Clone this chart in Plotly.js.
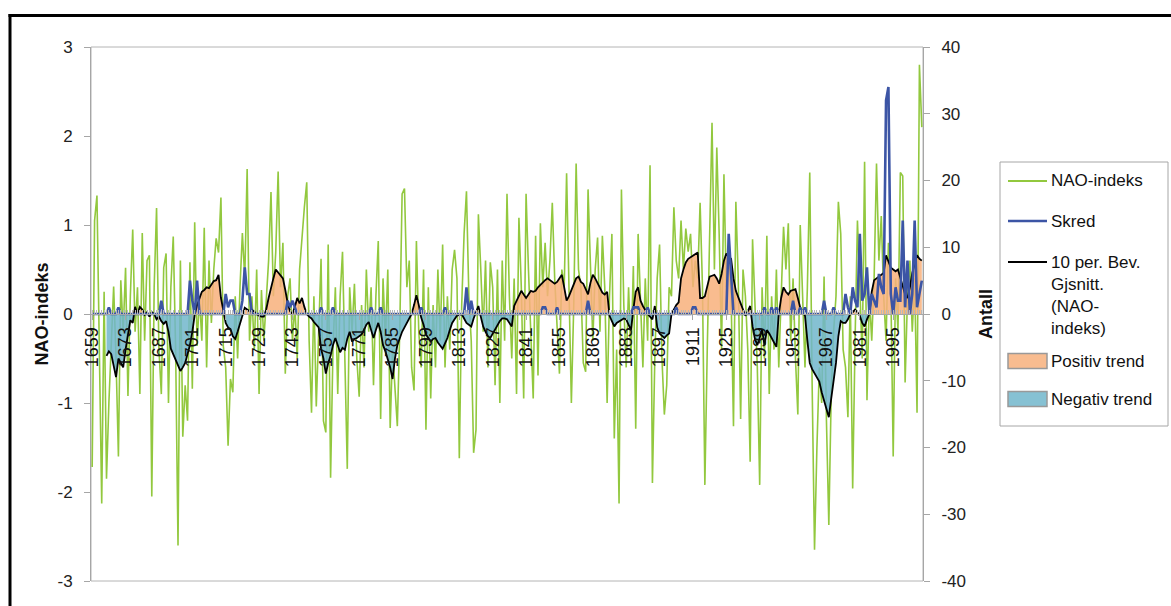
<!DOCTYPE html>
<html>
<head>
<meta charset="utf-8">
<script src="https://cdn.plot.ly/plotly-3.0.1.min.js"></script>
<style>
html,body{margin:0;padding:0;background:#fff;}
#chart{width:1171px;height:606px;}
</style>
</head>
<body>
<div id="chart"></div>
<script>
// ---------- DATA ----------
const firstYear = 1659;
const lastYear = 2007;

// NAO index (annual values), 1659-2007
const naoIndex = [
  -1.72, 1.05, 1.33, -0.6, -2.13, 0.25, -1.85, -1.0, -0.3, 0.31,
  -0.5, -1.6, 0.38, -0.2, 0.52, -0.92, 0.2, 0.95, -0.2, 0.3,
  -0.9, 0.91, -0.3, 0.6, 0.66, -2.05, 0.3, 1.19, -0.4, -0.9,
  0.52, 0.68, -1.0, 0.3, 0.87, -0.4, -2.6, 0.6, -1.38, -0.8,
  -1.2, 0.58, -0.84, 1.03, -0.36, 0.2, -0.3, 0.97, -0.6, 0.6,
  -0.1, 0.5, 0.85, 0.69, 1.31, -0.36, -0.6, -1.48, -0.73, -0.88,
  0.2, -0.5, 0.3, 0.91, 0.4, 1.63, -0.3, 0.2, -0.4, 0.5,
  -0.9, 0.27, -0.3, 0.1, 0.6, 1.37, 0.2, 0.7, 1.6, 0.3,
  0.8, -0.67, 0.2, 0.4, -0.3, 0.1, -0.5, 0.5, 0.9, 1.2,
  1.48, -0.3, -1.11, 0.2, -1.04, -0.3, 0.62, -1.2, -1.33, 0.78,
  -1.84, -0.4, 0.3, -0.9, 0.2, 0.7, -0.6, -1.74, 0.3, -0.2,
  0.34, -0.5, -0.93, 0.1, -0.6, 0.5, -0.2, 0.3, -0.8, 0.2,
  0.82, -1.18, 0.4, -0.3, 0.5, -1.28, -0.4, -0.9, -1.26, -0.2,
  1.35, 1.41, 0.3, 0.6, -0.6, -0.86, 0.82, -0.2, -0.6, 0.5,
  -1.3, 0.3, -0.95, 0.1, -0.6, 0.5, -0.3, 0.78, -0.6, 0.2,
  -0.4, 0.5, 0.72, 0.4, -1.62, 0.1, 0.9, 1.38, 0.2, -0.3,
  -1.56, -1.3, 1.12, 0.5, -0.2, 0.6, -0.6, 0.58, 0.3, -0.8,
  0.5, -1.0, 0.6, -0.3, 1.35, 0.2, -0.5, 0.4, -0.9, 1.08,
  0.3, -0.95, 1.35, 0.5, -0.2, -0.95, 0.88, -0.69, 1.02, 0.3,
  0.8, 0.2, 0.6, 1.25, 0.4, -0.2, -0.67, 0.5, 0.3, 1.58,
  0.4, -1.0, 0.1, 1.69, 0.5, 0.3, -0.55, -0.65, 1.4, 0.4,
  -0.3, 0.5, 0.86, -0.2, 0.88, 0.3, -1.0, 0.2, 0.9, -1.4,
  -0.4, -2.13, 1.4, 0.1, -0.6, 0.3, -0.5, 0.54, -1.29, 0.9,
  0.2, -0.6, 0.4, -0.3, 1.67, -1.9, -0.5, 0.4, 0.78, -0.5,
  -1.13, -0.8, 0.3, 0.2, 1.2, 0.6, 0.4, 1.05, 0.5, 0.96,
  0.7, 0.9, 0.3, 0.6, 0.4, 1.25, 0.3, -1.92, -0.4, 0.8,
  2.15, 0.5, 1.87, 0.9, -0.4, 1.57, 0.3, 0.6, 0.2, -1.26,
  1.26, 0.4, -1.18, 0.5, 0.2, -0.4, -1.66, 0.84, 0.1, -0.6,
  -1.92, 0.3, -0.5, 0.88, -0.9, 0.2, -0.4, 0.5, -0.6, 0.3,
  0.98, 0.5, 1.02, -0.3, 0.4, -0.5, -1.13, 1.0, 0.2, -0.6,
  0.3, 1.59, -0.8, -2.65, -1.5, -0.6, -1.0, 0.42, -1.2, -2.37,
  -0.9, -0.2, 0.2, 1.26, 0.9, -0.4, -0.6, -1.16, 0.2, -1.96,
  -0.3, 1.05, 0.3, -0.5, 1.71, -0.97, 0.2, -0.3, 0.4, 1.69,
  0.6, 1.1, 0.2, -0.3, 0.8, 0.3, -1.6, 0.4, -0.2, 1.59,
  1.55, -0.77, 0.2, 0.6, -0.2, 0.4, -1.11, 2.8, 2.1
];

// Skred (avalanche count, right axis), 1659-2007
const skred = [
  0,0,0,0,0,0,0,1,0,0,
  0,1,0,0,0,0,0,0,0,0,
  0,0,0,0,0,0,0,0,0,2,
  0,0,0,0,0,0,0,0,0,0,
  0,5,2,0,5,0,0,0,0,0,
  0,0,0,0,0,0,3,1,2,2,
  0,0,0,2,7,3,3,0,0,0,
  0,0,0,0,0,0,0,0,0,0,
  0,0,2,1,2,1,0,0,0,0,
  0,0,0,0,0,0,1,0,0,0,
  0,1,0,0,0,0,0,0,0,0,
  0,0,0,0,0,0,0,1,0,0,
  0,1,0,0,0,0,0,0,0,0,
  0,0,0,0,0,0,0,0,1,0,
  0,0,0,0,0,0,0,0,1,0,
  0,0,0,0,0,0,0,4,0,2,
  0,0,0,0,0,0,0,0,0,0,
  0,0,0,0,0,0,0,0,0,0,
  0,0,0,0,0,0,0,0,0,1,
  1,0,0,0,0,1,0,0,0,0,
  0,0,0,0,0,0,0,0,2,0,
  0,0,0,0,0,0,0,0,0,0,
  0,0,0,0,0,0,0,1,1,1,
  0,0,0,1,0,0,0,0,0,0,
  0,0,0,0,0,1,0,0,0,0,
  0,0,1,1,0,0,0,0,0,0,
  0,0,0,0,0,0,0,12,6,0,
  0,0,0,0,0,0,0,0,0,0,
  0,0,1,0,0,1,0,1,0,0,
  0,0,0,0,2,0,0,1,0,1,
  0,0,0,0,0,0,0,2,0,0,
  0,1,0,0,0,0,3,1,0,4,
  2,1,12,2,3,7,0,3,2,1,
  6,4,3,32,34,3,0,4,2,2,
  14,1,8,0,3,14,1,3,5
];

// 10-period moving average of NAO index, 1659-2007
const movingAvg = [
  null,null,null,null,null,null, -0.47, -0.42, -0.45, -0.6,
  -0.71, -0.5, -0.55, -0.6, -0.4, -0.22, -0.07, -0.1, 0.08, 0.0,
  0.08, 0.05, -0.01, 0.02, -0.03, 0.02, 0.0, -0.06, -0.03, -0.08,
  -0.11, -0.08, -0.2, -0.39, -0.45, -0.53, -0.58, -0.64, -0.6, -0.55,
  -0.45, -0.35, -0.2, -0.01, 0.1, 0.18, 0.25, 0.27, 0.3, 0.29,
  0.33, 0.37, 0.38, 0.44, 0.18, 0.02, -0.1, -0.15, -0.17, -0.25,
  -0.28, -0.2, -0.1, 0.0, 0.07, 0.05, 0.03, 0.05, 0.02, 0.0,
  -0.02, -0.03, -0.03, 0.05, 0.18, 0.3, 0.4, 0.5, 0.47, 0.44,
  0.4, 0.27, 0.12, 0.03, 0.0, 0.08, 0.18, 0.12, 0.18, 0.08,
  0.0, -0.03, -0.05, -0.09, -0.12, -0.15, -0.39, -0.5, -0.67, -0.55,
  -0.47, -0.35, -0.27, -0.35, -0.43, -0.38, -0.4, -0.28, -0.2, -0.31,
  -0.28, -0.27, -0.25, -0.23, -0.18, -0.12, -0.09, -0.18, -0.27, -0.18,
  -0.1, -0.2, -0.35, -0.42, -0.5, -0.6, -0.73, -0.5, -0.35, -0.27,
  -0.2, -0.15, -0.1, -0.05, 0.0, 0.1, 0.21, 0.1, -0.04, -0.12,
  -0.23, -0.27, -0.31, -0.28, -0.27, -0.32, -0.36, -0.39, -0.33, -0.27,
  -0.18, -0.1, -0.06, -0.02, -0.01, 0.0, -0.05, -0.1, -0.12, -0.14,
  -0.05, 0.03, 0.09, -0.03, -0.14, -0.2, -0.25, -0.27, -0.22, -0.18,
  -0.12, -0.08, -0.05, -0.05, -0.06, -0.1, -0.14, 0.09, 0.15, 0.2,
  0.26, 0.22, 0.18, 0.22, 0.26, 0.25, 0.26, 0.3, 0.33, 0.36,
  0.38, 0.4, 0.38, 0.37, 0.34, 0.36, 0.4, 0.44, 0.3, 0.15,
  0.2, 0.26, 0.32, 0.4, 0.42, 0.36, 0.34, 0.28, 0.22, 0.35,
  0.44, 0.4, 0.35, 0.3, 0.24, 0.22, 0.25, -0.02, -0.08, -0.14,
  -0.1, -0.08, -0.06, -0.05, -0.06, -0.12, -0.18, 0.05, 0.25, 0.3,
  0.15, 0.09, 0.04, 0.0, -0.03, -0.06, 0.09, -0.15, -0.22, -0.25,
  -0.27, -0.24, -0.22, 0.0, 0.05, 0.1, 0.13, 0.4, 0.5, 0.58,
  0.62, 0.64, 0.66, 0.68, 0.69, 0.18, 0.18, 0.2, 0.3, 0.42,
  0.43, 0.44, 0.4, 0.34, 0.45, 0.6, 0.68, 0.64, 0.62, 0.4,
  0.26, 0.2, 0.12, 0.05, -0.02, 0.03, 0.09, -0.14, -0.28, -0.35,
  -0.25, -0.18, -0.35, -0.18, -0.22, -0.27, -0.32, -0.37, 0.0, 0.18,
  0.3, 0.25, 0.22, 0.26, 0.27, 0.28, 0.18, 0.07, 0.02, -0.02,
  -0.3, -0.55, -0.62, -0.67, -0.72, -0.76, -0.88, -0.98, -1.08, -1.16,
  -0.95, -0.75, -0.55, -0.25, -0.08, -0.1, -0.1, -0.06, 0.0, 0.02,
  0.05, 0.02, -0.02, -0.1, -0.14, -0.06, 0.0, 0.25, 0.38, 0.4,
  0.42, 0.44, 0.46, 0.66, 0.58, 0.52, 0.5, 0.48, 0.5, 0.4,
  0.3, 0.22, 0.18, 0.3, 0.46, 0.55, 0.66, 0.62, 0.6
];

// Tick labels
const yearTicks = [1659,1673,1687,1701,1715,1729,1743,1757,1771,1785,1799,1813,1827,1841,1855,1869,1883,1897,1911,1925,1939,1953,1967,1981,1995];
const leftTicks = [-3,-2,-1,0,1,2,3];
const rightTicks = [-40,-30,-20,-10,0,10,20,30,40];

const seriesNames = ['NAO-indeks','Skred','10 per. Bev.<br>Gjsnitt.<br>(NAO-<br>indeks)','Positiv trend','Negativ trend'];

// ---------- BUILD ----------
const years = [];
for (let y = firstYear; y <= lastYear; y++) years.push(y);
const posTrend = movingAvg.map(v => v === null ? null : Math.max(v, 0));
const negTrend = movingAvg.map(v => v === null ? null : Math.min(v, 0));

const FONT = 'Liberation Sans, Arial, sans-serif';
const GREEN = '#92C83E', BLUE = '#3C55A5', ORANGE = '#F8BC90', LBLUE = '#86C1D3';

const traces = [
  {x: years, y: naoIndex, type: 'scatter', mode: 'lines', name: seriesNames[0],
   line: {color: GREEN, width: 1.6}, hoverinfo: 'skip'},
  {x: years, y: posTrend, type: 'scatter', mode: 'none', fill: 'tozeroy', name: seriesNames[3],
   fillcolor: 'rgba(248,176,123,0.85)', hoverinfo: 'skip'},
  {x: years, y: negTrend, type: 'scatter', mode: 'none', fill: 'tozeroy', name: seriesNames[4],
   fillcolor: 'rgba(113,182,203,0.85)', hoverinfo: 'skip'},
  {x: years, y: movingAvg, type: 'scatter', mode: 'lines', name: seriesNames[2],
   line: {color: '#000000', width: 1.8}, connectgaps: false, hoverinfo: 'skip'},
  {x: years, y: skred, type: 'scatter', mode: 'lines', name: seriesNames[1], yaxis: 'y2',
   line: {color: BLUE, width: 2.6}, hoverinfo: 'skip'}
];

const L = 91, R = 923, T = 47, B = 581, W = 1171, H = 606;
const px = x => (x - L) / (R - L);
const py = y => (B - y) / (B - T);

const shapes = [];
const annotations = [];
// outer black frame (top and left edges visible)
shapes.push({type: 'line', xref: 'paper', yref: 'paper', x0: px(8.5), x1: px(1175), y0: py(15.5), y1: py(15.5), line: {color: '#000', width: 3}});
shapes.push({type: 'line', xref: 'paper', yref: 'paper', x0: px(10), x1: px(10), y0: py(14), y1: py(610), line: {color: '#000', width: 3}});
// plot area border
shapes.push({type: 'rect', xref: 'paper', yref: 'paper', x0: 0, x1: 1, y0: 0, y1: 1, line: {color: '#B4B4B4', width: 1}, layer: 'below'});
// legend box
shapes.push({type: 'rect', xref: 'paper', yref: 'paper', x0: px(1000), x1: px(1168), y0: py(162), y1: py(426), line: {color: '#A6A6A6', width: 1}});
// legend symbols
const legY = [181, 221, 262, 361, 399];
shapes.push({type: 'line', xref: 'paper', yref: 'paper', x0: px(1008), x1: px(1047), y0: py(legY[0]), y1: py(legY[0]), line: {color: GREEN, width: 2}});
shapes.push({type: 'line', xref: 'paper', yref: 'paper', x0: px(1008), x1: px(1047), y0: py(legY[1]), y1: py(legY[1]), line: {color: BLUE, width: 2.6}});
shapes.push({type: 'line', xref: 'paper', yref: 'paper', x0: px(1008), x1: px(1047), y0: py(legY[2]), y1: py(legY[2]), line: {color: '#000', width: 2}});
shapes.push({type: 'rect', xref: 'paper', yref: 'paper', x0: px(1008), x1: px(1047), y0: py(legY[3] - 7.5), y1: py(legY[3] + 7.5), fillcolor: ORANGE, line: {color: '#999999', width: 1.5}});
shapes.push({type: 'rect', xref: 'paper', yref: 'paper', x0: px(1008), x1: px(1047), y0: py(legY[4] - 7.5), y1: py(legY[4] + 7.5), fillcolor: LBLUE, line: {color: '#999999', width: 1.5}});

const legOrder = [0, 1, 2, 3, 4];
legOrder.forEach((k, i) => {
  const multi = k === 2;
  annotations.push({
    xref: 'paper', yref: 'paper', x: px(1049), y: multi ? py(legY[i] - 11) : py(legY[i]),
    xanchor: 'left', yanchor: multi ? 'top' : 'middle', align: 'left',
    text: seriesNames[k], showarrow: false,
    font: {family: FONT, size: 17, color: '#111'}
  });
});

const layout = {
  width: W, height: H,
  margin: {l: L, r: W - R, t: T, b: H - B, pad: 0},
  paper_bgcolor: '#ffffff', plot_bgcolor: '#ffffff',
  showlegend: false, hovermode: false,
  font: {family: FONT, size: 16, color: '#222'},
  xaxis: {
    type: 'linear', range: [firstYear - 0.5, lastYear + 0.5],
    anchor: 'free', position: 0.5,
    tickmode: 'array', tickvals: yearTicks, ticktext: yearTicks.map(String),
    tickangle: -90, tickfont: {family: FONT, size: 18, color: '#111'},
    ticks: 'outside', ticklen: 5, tickcolor: '#A6A6A6',
    showline: true, linecolor: '#A6A6A6', showgrid: false, zeroline: false,
    minor: {dtick: 1, tick0: 1659, ticks: 'inside', ticklen: 4, tickcolor: '#B8B8B8', showgrid: false},
    fixedrange: true
  },
  yaxis: {
    range: [-3, 3], domain: [0, 1],
    tickmode: 'array', tickvals: leftTicks, ticktext: leftTicks.map(String),
    ticks: 'outside', ticklen: 6, tickcolor: '#A6A6A6',
    showline: true, linecolor: '#A6A6A6', showgrid: false, zeroline: false,
    tickfont: {family: FONT, size: 17, color: '#222'}, ticklabelstandoff: 8,
    title: {text: '<b>NAO-indeks</b>', font: {family: FONT, size: 18, color: '#111'}, standoff: 4},
    automargin: false, fixedrange: true
  },
  yaxis2: {
    overlaying: 'y', side: 'right', anchor: 'x',
    range: [-40, 40],
    tickmode: 'array', tickvals: rightTicks, ticktext: rightTicks.map(String),
    ticks: 'outside', ticklen: 6, tickcolor: '#A6A6A6',
    showline: true, linecolor: '#A6A6A6', showgrid: false, zeroline: false,
    tickfont: {family: FONT, size: 17, color: '#222'}, ticklabelstandoff: 8,
    title: {text: '<b>Antall</b>', font: {family: FONT, size: 18, color: '#111'}, standoff: 14},
    automargin: false, fixedrange: true
  },
  shapes: shapes,
  annotations: annotations
};

Plotly.newPlot('chart', traces, layout, {displayModeBar: false, staticPlot: true});
</script>
</body>
</html>
